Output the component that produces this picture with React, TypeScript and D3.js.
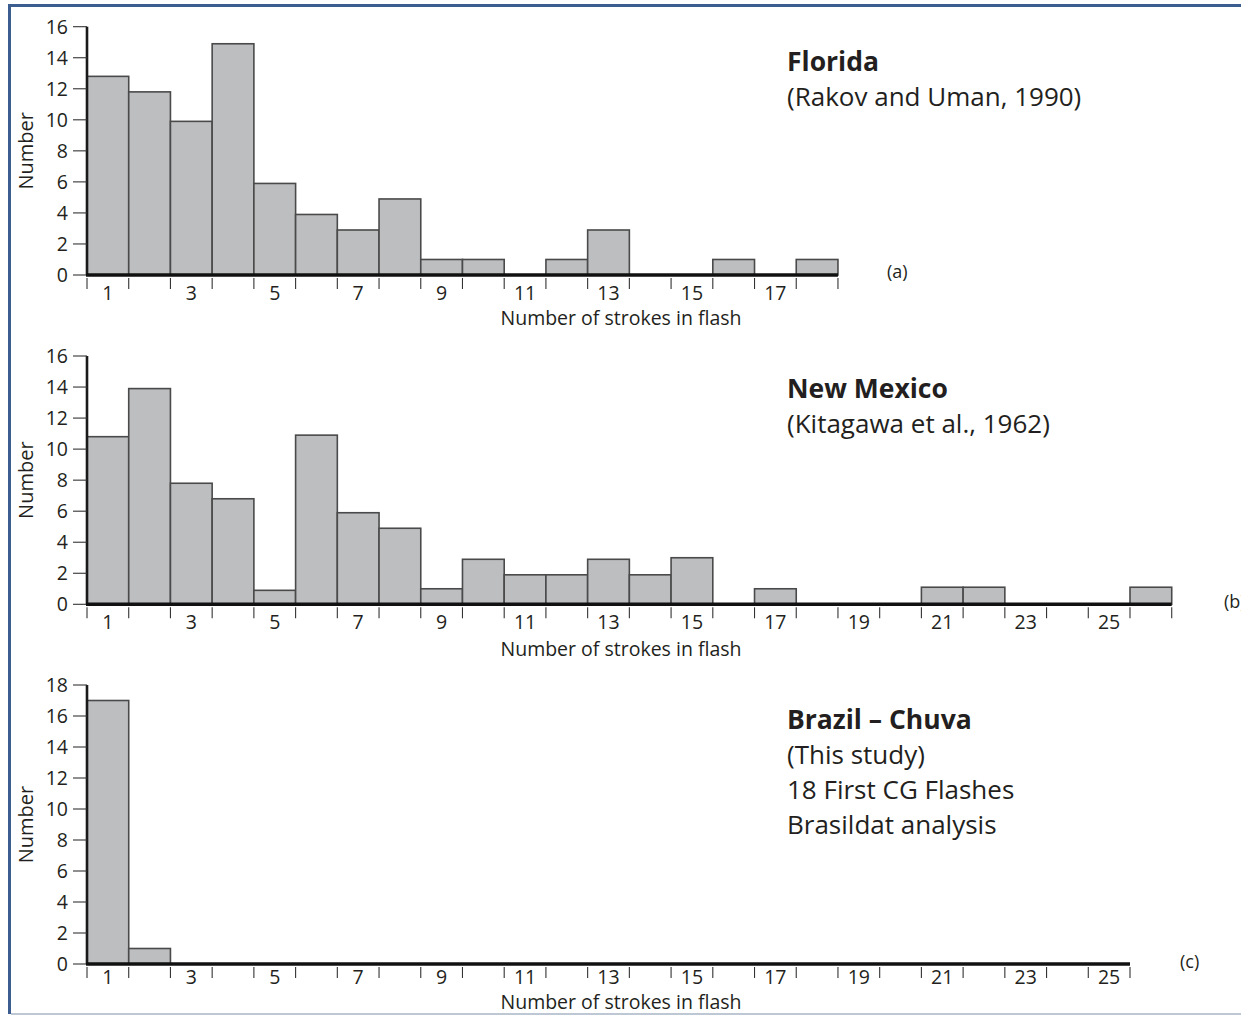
import * as d3 from "d3";

// values (counts per bin)
const floridaCounts = [12.8, 11.8, 9.9, 14.9, 5.9, 3.9, 2.9, 4.9, 1, 1, 0, 1, 2.9, 0, 0, 1, 0, 1];
const newMexicoCounts = [10.8, 13.9, 7.8, 6.8, 0.9, 10.9, 5.9, 4.9, 1, 2.9, 1.9, 1.9, 2.9, 1.9, 3, 0, 1, 0, 0, 0, 1.1, 1.1, 0, 0, 0, 1.1];
const brazilCounts = [17, 1, 0, 0, 0, 0, 0, 0, 0, 0, 0, 0, 0, 0, 0, 0, 0, 0, 0, 0, 0, 0, 0, 0, 0];

const xLabelsA = [1, 3, 5, 7, 9, 11, 13, 15, 17];
const xLabelsB = [1, 3, 5, 7, 9, 11, 13, 15, 17, 19, 21, 23, 25];
const xLabelsC = [1, 3, 5, 7, 9, 11, 13, 15, 17, 19, 21, 23, 25];
const yTicks16 = [0, 2, 4, 6, 8, 10, 12, 14, 16];
const yTicks18 = [0, 2, 4, 6, 8, 10, 12, 14, 16, 18];

const titleA = ["Florida", "(Rakov and Uman, 1990)"];
const titleB = ["New Mexico", "(Kitagawa et al., 1962)"];
const titleC = ["Brazil – Chuva", "(This study)", "18 First CG Flashes", "Brasildat analysis"];

const FONT = "'Open Sans', 'Noto Sans', sans-serif";
const INK = "#231f20";
const BIN_W = 41.72;
const X0 = 87;

type PanelProps = {
  counts: number[];
  xLabels: number[];
  yTicks: number[];
  yMax: number;
  top: number;
  bottom: number;
  title: string[];
  titleY: number;
  labelDy: number;
  axisTitleDy: number;
  tag: string;
  tagX: number;
  tagY: number;
};

const Panel = ({ counts, xLabels, yTicks, yMax, top, bottom, title, titleY, labelDy, axisTitleDy, tag, tagX, tagY }: PanelProps) => {
  const n = counts.length;
  const x = d3.scaleLinear().domain([0, n]).range([X0, X0 + BIN_W * n]);
  const y = d3.scaleLinear().domain([0, yMax]).range([bottom, top]);
  const edges = d3.range(n + 1);

  return (
    <g>
      {counts.map((c, i) =>
        c > 0 ? (
          <rect
            key={i}
            x={x(i)}
            y={y(c)}
            width={x(i + 1) - x(i)}
            height={y(0) - y(c)}
            fill="#bcbec0"
            stroke="#4a4a4a"
            strokeWidth={1.6}
          />
        ) : null
      )}
      {/* y axis */}
      <line x1={X0} x2={X0} y1={y(yMax)} y2={y(0)} stroke="#1a1a1a" strokeWidth={2.6} />
      {yTicks.map((t) => (
        <g key={t}>
          <line x1={X0 - 14} x2={X0} y1={y(t)} y2={y(t)} stroke="#333" strokeWidth={1.1} />
          <text x={X0 - 19} y={y(t) + 7} textAnchor="end" fontSize={19.5} fill={INK} fontFamily={FONT}>
            {t}
          </text>
        </g>
      ))}
      <text
        transform={`translate(33, ${(y(0) + y(yMax)) / 2}) rotate(-90)`}
        textAnchor="middle"
        fontSize={20}
        fill={INK}
        fontFamily={FONT}
      >
        Number
      </text>
      {/* x axis */}
      {edges.map((e) => (
        <line key={e} x1={x(e)} x2={x(e)} y1={y(0) + 3} y2={y(0) + 14} stroke="#333" strokeWidth={1.1} />
      ))}
      <line x1={X0 - 1} x2={x(n)} y1={y(0)} y2={y(0)} stroke="#111" strokeWidth={3.4} />
      {xLabels.map((l) => (
        <text key={l} x={x(l - 0.5)} y={y(0) + labelDy} textAnchor="middle" fontSize={19.5} fill={INK} fontFamily={FONT}>
          {l}
        </text>
      ))}
      <text x={621} y={y(0) + axisTitleDy} textAnchor="middle" fontSize={19.5} fill={INK} fontFamily={FONT}>
        Number of strokes in flash
      </text>
      {title.map((t, i) => (
        <text
          key={i}
          x={787}
          y={titleY + i * 35}
          fontSize={i === 0 ? 26.5 : 26}
          fontWeight={i === 0 ? 700 : 400}
          fill={INK}
          fontFamily={FONT}
        >
          {t}
        </text>
      ))}
      <text x={tagX} y={tagY} fontSize={18} fill={INK} fontFamily={FONT}>
        {tag}
      </text>
    </g>
  );
};

export default function App() {
  return (
    <svg
      width={1241}
      height={1016}
      style={{ position: "absolute", left: 0, top: 0, background: "#fff" }}
    >
      <rect x={0} y={0} width={1241} height={1016} fill="#fff" />
      <line x1={8} x2={1241} y1={5.5} y2={5.5} stroke="#3b5d8f" strokeWidth={3} />
      <line x1={9.5} x2={9.5} y1={4} y2={1014} stroke="#3b5d8f" strokeWidth={3} />
      <line x1={11} x2={1241} y1={1014} y2={1014} stroke="#a9b6c6" strokeWidth={1.5} />
      <Panel
        counts={floridaCounts}
        xLabels={xLabelsA}
        yTicks={yTicks16}
        yMax={16}
        top={26.7}
        bottom={275}
        title={titleA}
        titleY={71}
        labelDy={25}
        axisTitleDy={50}
        tag="(a)"
        tagX={887}
        tagY={278}
      />
      <Panel
        counts={newMexicoCounts}
        xLabels={xLabelsB}
        yTicks={yTicks16}
        yMax={16}
        top={356}
        bottom={604.3}
        title={titleB}
        titleY={398}
        labelDy={25}
        axisTitleDy={52}
        tag="(b)"
        tagX={1224}
        tagY={608}
      />
      <Panel
        counts={brazilCounts}
        xLabels={xLabelsC}
        yTicks={yTicks18}
        yMax={18}
        top={685}
        bottom={964}
        title={titleC}
        titleY={729}
        labelDy={20}
        axisTitleDy={45}
        tag="(c)"
        tagX={1180}
        tagY={968}
      />
    </svg>
  );
}
